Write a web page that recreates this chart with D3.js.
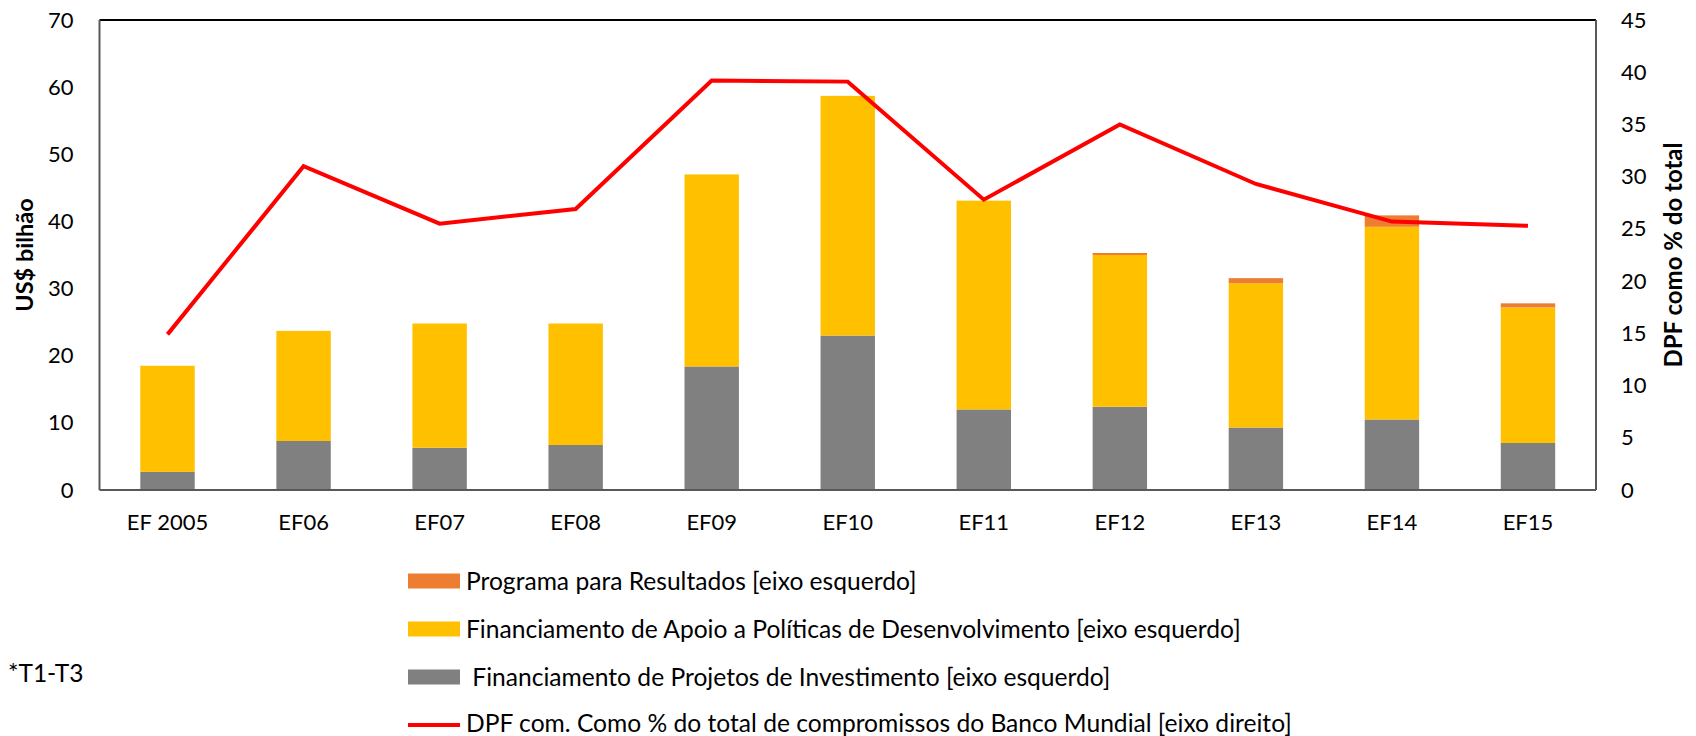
<!DOCTYPE html>
<html>
<head>
<meta charset="utf-8">
<script src="https://cdn.jsdelivr.net/npm/d3@7"></script>
<style>
  html, body { margin: 0; padding: 0; background: #fff; }
  svg { display: block; font-family: Lato, "Open Sans", sans-serif; }
</style>
</head>
<body>
<svg id="chart" width="1696" height="736"></svg>
<script>
const categories = ["EF 2005", "EF06", "EF07", "EF08", "EF09", "EF10", "EF11", "EF12", "EF13", "EF14", "EF15"];
const investimento = [2.7, 7.3, 6.3, 6.7, 18.4, 23.0, 12.0, 12.4, 9.3, 10.5, 7.0];
const apoioPoliticas = [15.8, 16.4, 18.5, 18.1, 28.6, 35.7, 31.1, 22.6, 21.5, 28.7, 20.2];
const programaResultados = [0, 0, 0, 0, 0, 0, 0, 0.3, 0.75, 1.7, 0.6];
const dpfPercent = [14.9, 31.0, 25.5, 26.9, 39.2, 39.1, 27.8, 35.0, 29.3, 25.7, 25.3];
const leftTicks = [0, 10, 20, 30, 40, 50, 60, 70];
const rightTicks = [0, 5, 10, 15, 20, 25, 30, 35, 40, 45];
const seriesNames = [
  "Programa para Resultados [eixo esquerdo]",
  "Financiamento de Apoio a Políticas de Desenvolvimento [eixo esquerdo]",
  " Financiamento de Projetos de Investimento [eixo esquerdo]",
  "DPF com. Como % do total de compromissos do Banco Mundial [eixo direito]"
];
const colors = { inv: "#808080", apoio: "#FFC000", prog: "#ED7D31", line: "#FF0000" };

const svg = d3.select("#chart");
const L = 99.5, R = 1596, T = 20, B = 490;

const x = d3.scaleBand().domain(categories).range([L, R]).paddingInner(0.6).paddingOuter(0.3);
const yL = d3.scaleLinear().domain([0, 70]).range([B, T]);
const yR = d3.scaleLinear().domain([0, 45]).range([B, T]);

// stacked data
const rows = categories.map((c, i) => ({ cat: c, inv: investimento[i], apoio: apoioPoliticas[i], prog: programaResultados[i] }));
const stack = d3.stack().keys(["inv", "apoio", "prog"])(rows);

const g = svg.append("g");
stack.forEach(layer => {
  g.selectAll(null).data(layer).enter().append("rect")
    .attr("x", d => x(d.data.cat))
    .attr("width", x.bandwidth())
    .attr("y", d => yL(d[1]))
    .attr("height", d => Math.max(0, yL(d[0]) - yL(d[1])))
    .attr("fill", colors[layer.key]);
});

// line
const line = d3.line().x((d, i) => x(categories[i]) + x.bandwidth() / 2).y(d => yR(d));
svg.append("path").datum(dpfPercent).attr("d", line)
  .attr("fill", "none").attr("stroke", colors.line).attr("stroke-width", 4).attr("stroke-linejoin", "miter");

// plot border
svg.append("line").attr("x1", L).attr("x2", R).attr("y1", T).attr("y2", T).attr("stroke", "#000").attr("stroke-width", 2);
svg.append("line").attr("x1", L).attr("x2", L).attr("y1", T).attr("y2", B).attr("stroke", "#595959").attr("stroke-width", 2);
svg.append("line").attr("x1", R).attr("x2", R).attr("y1", T).attr("y2", B).attr("stroke", "#595959").attr("stroke-width", 2);
svg.append("line").attr("x1", L).attr("x2", R).attr("y1", B).attr("y2", B).attr("stroke", "#595959").attr("stroke-width", 2);

// axes
const axL = svg.append("g").attr("transform", `translate(${L},0)`)
  .call(d3.axisLeft(yL).tickValues(leftTicks).tickSize(0).tickPadding(26));
const axR = svg.append("g").attr("transform", `translate(${R},0)`)
  .call(d3.axisRight(yR).tickValues(rightTicks).tickSize(0).tickPadding(25));
const axB = svg.append("g").attr("transform", `translate(0,${B})`)
  .call(d3.axisBottom(x).tickSize(0).tickPadding(24));
[axL, axR, axB].forEach(a => {
  a.select(".domain").remove();
  a.selectAll("text").attr("font-size", 22).attr("font-family", "Lato, sans-serif").attr("fill", "#000");
});

// axis titles
svg.append("text").attr("transform", `translate(33,${(T + B) / 2}) rotate(-90)`)
  .attr("text-anchor", "middle").attr("font-size", 23.5).attr("font-weight", "bold").text("US$ bilhão");
svg.append("text").attr("transform", `translate(1682,${(T + B) / 2}) rotate(-90)`)
  .attr("text-anchor", "middle").attr("font-size", 24).attr("font-weight", "bold").text("DPF como % do total");

// legend
const lg = svg.append("g");
const legendY = [581, 629, 677, 723];
const legendColors = [colors.prog, colors.apoio, colors.inv];
legendColors.forEach((c, i) => {
  lg.append("rect").attr("x", 408).attr("y", legendY[i] - 7.5).attr("width", 52).attr("height", 15).attr("fill", c);
});
lg.append("line").attr("x1", 408).attr("x2", 460).attr("y1", legendY[3] + 2).attr("y2", legendY[3] + 2)
  .attr("stroke", colors.line).attr("stroke-width", 4);
seriesNames.forEach((s, i) => {
  lg.append("text").attr("x", 466).attr("y", legendY[i]).attr("dy", "0.35em")
    .attr("font-size", 24.6).attr("xml:space", "preserve").style("white-space", "pre").text(s);
});

svg.append("text").attr("x", 8).attr("y", 673).attr("dy", "0.35em").attr("font-size", 24.5).text("*T1-T3");
</script>
</body>
</html>
